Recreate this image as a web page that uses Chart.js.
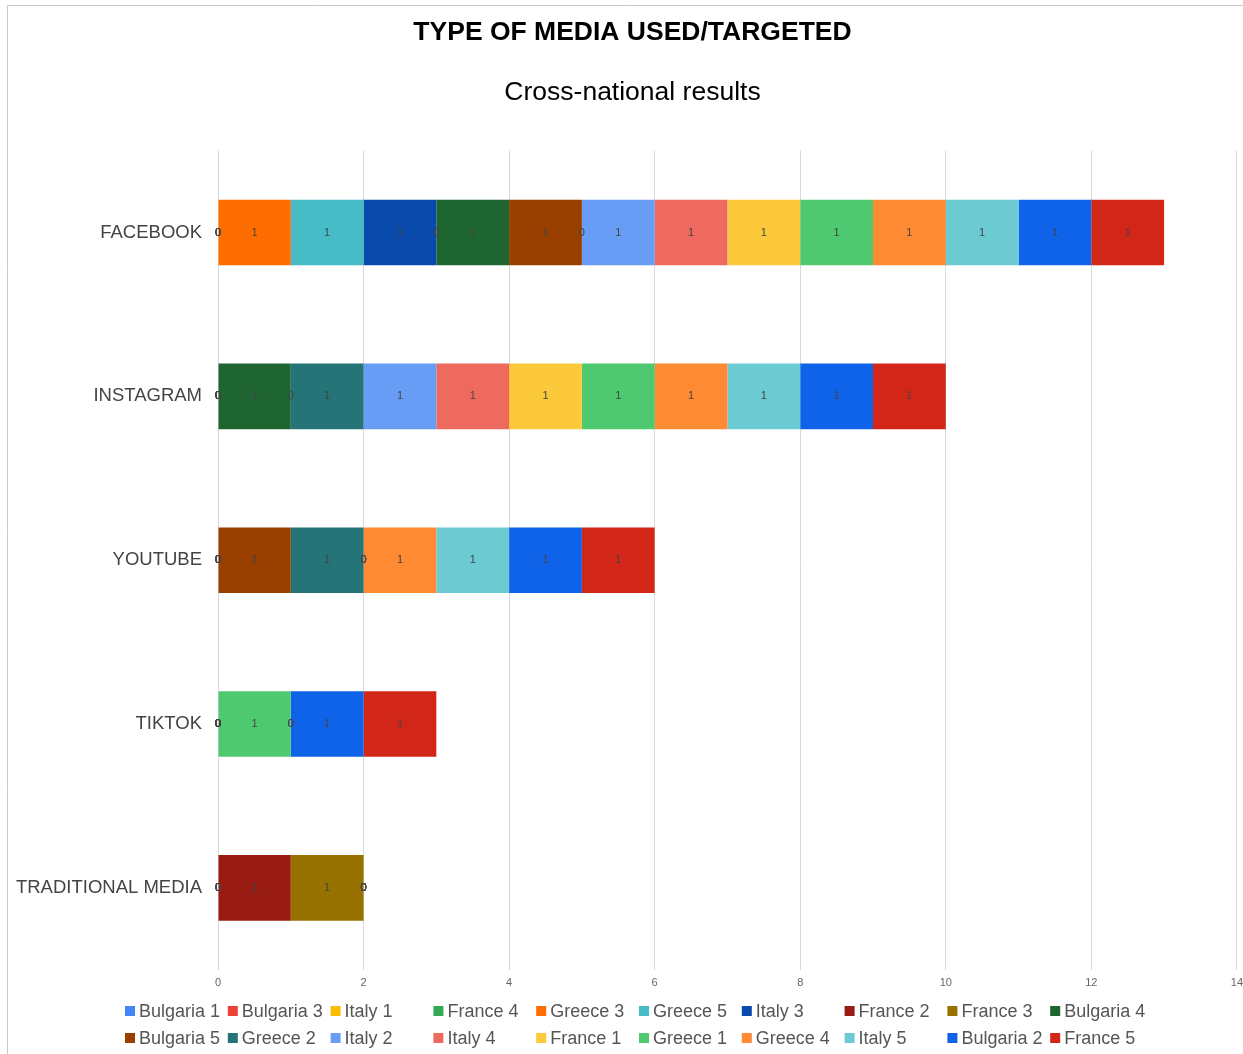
<!DOCTYPE html>
<html>
<head>
<meta charset="utf-8">
<script src="https://cdn.jsdelivr.net/npm/chart.js@4/dist/chart.umd.min.js"></script>
<style>
  html, body { margin: 0; padding: 0; background: #fff; }
  #wrap { width: 1243px; height: 1054px; position: relative; }
</style>
</head>
<body>
<div id="wrap"><canvas id="c" width="1243" height="1054"></canvas></div>
<script>
const categories = ['FACEBOOK', 'INSTAGRAM', 'YOUTUBE', 'TIKTOK', 'TRADITIONAL MEDIA'];
const xTicks = [0, 2, 4, 6, 8, 10, 12, 14];

// values per category: [FACEBOOK, INSTAGRAM, YOUTUBE, TIKTOK, TRADITIONAL MEDIA]
const bulgaria1 = [0, 0, 0, 0, 0];
const bulgaria3 = [0, 0, 0, 0, 0];
const italy1    = [0, 0, 0, 0, 0];
const france4   = [0, 0, 0, 0, 0];
const greece3   = [1, 0, 0, 0, 0];
const greece5   = [1, 0, 0, 0, 0];
const italy3    = [1, 0, 0, 0, 0];
const france2   = [0, 0, 0, 0, 1];
const france3   = [0, 0, 0, 0, 1];
const bulgaria4 = [1, 1, 0, 0, 0];
const bulgaria5 = [1, 0, 1, 0, 0];
const greece2   = [0, 1, 1, 0, 0];
const italy2    = [1, 1, 0, 0, 0];
const italy4    = [1, 1, 0, 0, 0];
const france1   = [1, 1, 0, 0, 0];
const greece1   = [1, 1, 0, 1, 0];
const greece4   = [1, 1, 1, 0, 0];
const italy5    = [1, 1, 1, 0, 0];
const bulgaria2 = [1, 1, 1, 1, 0];
const france5   = [1, 1, 1, 1, 0];

const seriesNames = ['Bulgaria 1','Bulgaria 3','Italy 1','France 4','Greece 3','Greece 5','Italy 3','France 2','France 3','Bulgaria 4',
                     'Bulgaria 5','Greece 2','Italy 2','Italy 4','France 1','Greece 1','Greece 4','Italy 5','Bulgaria 2','France 5'];
const seriesValues = [bulgaria1, bulgaria3, italy1, france4, greece3, greece5, italy3, france2, france3, bulgaria4,
                      bulgaria5, greece2, italy2, italy4, france1, greece1, greece4, italy5, bulgaria2, france5];
const seriesColors = ['#4285f4','#ea4335','#fbbc04','#34a853','#ff6d01','#46bdc6','#0b4aad','#991c12','#987200','#1e6532',
                      '#993f00','#247478','#689df6','#ef6a5e','#fbc93a','#4fc970','#ff8a34','#6bcad2','#0e63e8','#d12618'];

const FONT = '"Liberation Sans", Arial, Helvetica, sans-serif';

const datasets = seriesNames.map((name, i) => ({
  label: name,
  data: seriesValues[i],
  backgroundColor: seriesColors[i],
  borderWidth: 0,
  barPercentage: 0.4,
  categoryPercentage: 1.0
}));

const frame = {
  id: 'frame',
  beforeDraw(chart) {
    const ctx = chart.ctx;
    ctx.save();
    ctx.fillStyle = '#fff';
    ctx.fillRect(0, 0, chart.width, chart.height);
    ctx.strokeStyle = '#c9c9c9';
    ctx.lineWidth = 1;
    ctx.beginPath();
    ctx.moveTo(7.5, chart.height);
    ctx.lineTo(7.5, 5.5);
    ctx.lineTo(chart.width, 5.5);
    ctx.stroke();
    ctx.restore();
  }
};

const valueLabels = {
  id: 'valueLabels',
  afterDatasetsDraw(chart) {
    const ctx = chart.ctx;
    ctx.save();
    ctx.font = '11px ' + FONT;
    ctx.fillStyle = '#444';
    ctx.textAlign = 'center';
    ctx.textBaseline = 'middle';
    chart.data.datasets.forEach((ds, di) => {
      const meta = chart.getDatasetMeta(di);
      if (meta.hidden) return;
      meta.data.forEach((el, i) => {
        const v = ds.data[i];
        if (v === null || v === undefined) return;
        const p = el.getProps(['x', 'y', 'base'], true);
        ctx.fillText(String(v), (p.x + p.base) / 2, p.y);
      });
    });
    ctx.restore();
  }
};

const gridLegend = {
  id: 'gridLegend',
  afterDraw(chart) {
    const ctx = chart.ctx;
    const perRow = 10, colW = 102.8, x0 = 125, rowY = [1011, 1038];
    ctx.save();
    ctx.font = '18px ' + FONT;
    ctx.textBaseline = 'middle';
    ctx.textAlign = 'left';
    chart.data.datasets.forEach((ds, i) => {
      const r = Math.floor(i / perRow), c = i % perRow;
      const x = x0 + c * colW, y = rowY[r];
      ctx.fillStyle = ds.backgroundColor;
      ctx.fillRect(x, y - 5, 10, 10);
      ctx.fillStyle = '#555';
      ctx.fillText(ds.label, x + 14, y + 1);
    });
    ctx.restore();
  }
};

new Chart(document.getElementById('c'), {
  type: 'bar',
  data: { labels: categories, datasets },
  plugins: [frame, valueLabels, gridLegend],
  options: {
    indexAxis: 'y',
    responsive: false,
    animation: false,
    devicePixelRatio: 1,
    layout: { padding: { left: 0, right: -22, top: 0, bottom: 64 } },
    plugins: {
      legend: { display: false },
      tooltip: { enabled: false },
      title: {
        display: true,
        text: 'TYPE OF MEDIA USED/TARGETED',
        color: '#000',
        font: { family: FONT, size: 26.5, weight: 'bold' },
        padding: { top: 17, bottom: 0 }
      },
      subtitle: {
        display: true,
        text: 'Cross-national results',
        color: '#000',
        font: { family: FONT, size: 26.5, weight: 'normal' },
        padding: { top: 28, bottom: 42 }
      }
    },
    scales: {
      x: {
        stacked: true,
        min: 0,
        max: 14,
        afterBuildTicks(scale) { scale.ticks = xTicks.map(v => ({ value: v })); },
        ticks: { color: '#666', font: { family: FONT, size: 11 }, padding: 0 },
        grid: { color: '#d9d9d9', drawTicks: true, tickLength: 7, tickColor: 'rgba(0,0,0,0)' },
        border: { display: false }
      },
      y: {
        stacked: true,
        afterFit(scale) { scale.width = 218; },
        ticks: { color: '#444', font: { family: FONT, size: 18.5 }, padding: 0 },
        grid: { display: false, drawTicks: true, tickLength: 16, tickColor: 'rgba(0,0,0,0)' },
        border: { display: false }
      }
    }
  }
});
</script>
</body>
</html>
